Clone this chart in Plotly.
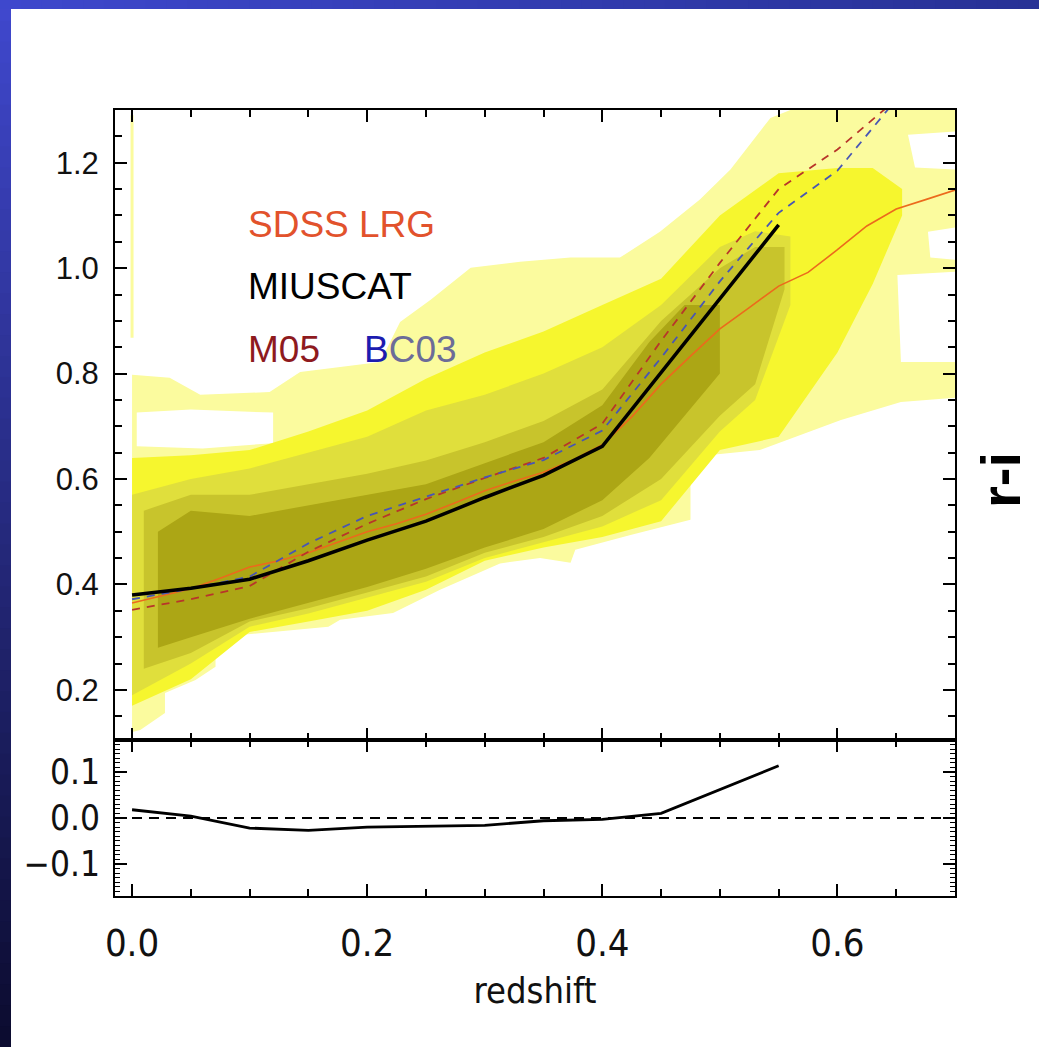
import plotly.graph_objects as go

# ---------------- data ----------------
# model / observed r-i colour tracks
miuscat_z = [0.0, 0.05, 0.1, 0.15, 0.2, 0.25, 0.3, 0.35, 0.4, 0.45, 0.5, 0.55]
miuscat_ri = [0.380, 0.393, 0.410, 0.445, 0.484, 0.520, 0.565, 0.607, 0.662, 0.802, 0.942, 1.082]

m05_z = [0.0, 0.05, 0.1, 0.15, 0.2, 0.25, 0.3, 0.35, 0.4, 0.45, 0.5, 0.55, 0.6, 0.65]
m05_ri = [0.352, 0.372, 0.397, 0.462, 0.515, 0.562, 0.602, 0.640, 0.705, 0.862, 1.010, 1.150, 1.225, 1.32]

bc03_z = [0.0, 0.05, 0.1, 0.15, 0.2, 0.25, 0.3, 0.35, 0.4, 0.45, 0.5, 0.55, 0.6, 0.65]
bc03_ri = [0.372, 0.392, 0.415, 0.478, 0.530, 0.566, 0.603, 0.636, 0.692, 0.830, 0.975, 1.105, 1.185, 1.32]

sdss_z = [0.0, 0.025, 0.05, 0.075, 0.1, 0.125, 0.15, 0.175, 0.2, 0.225, 0.25, 0.275, 0.3, 0.325,
          0.35, 0.375, 0.4, 0.425, 0.45, 0.475, 0.5, 0.525, 0.55, 0.575, 0.6, 0.625, 0.65, 0.675, 0.7]
sdss_ri = [0.365, 0.378, 0.392, 0.412, 0.433, 0.445, 0.460, 0.480, 0.500, 0.515, 0.533, 0.555, 0.578, 0.596,
           0.613, 0.636, 0.665, 0.718, 0.780, 0.833, 0.885, 0.925, 0.966, 0.992, 1.035, 1.080, 1.112, 1.130, 1.148]

resid_z = [0.0, 0.05, 0.1, 0.15, 0.2, 0.25, 0.3, 0.35, 0.4, 0.45, 0.5, 0.55]
resid_val = [0.018, 0.004, -0.022, -0.027, -0.020, -0.018, -0.016, -0.006, -0.003, 0.010, 0.062, 0.114]

# density contour levels (outer -> inner), boundaries
lvl1_x = [0.0, 0.032, 0.058, 0.117, 0.143, 0.211, 0.228, 0.254, 0.288, 0.330, 0.373, 0.415, 0.449, 0.483,
          0.509, 0.543, 0.560, 0.70, 0.70, 0.660, 0.666, 0.70, 0.70, 0.677, 0.679, 0.70, 0.70, 0.651,
          0.654, 0.70, 0.70, 0.654, 0.603, 0.534, 0.475, 0.475, 0.424, 0.377, 0.373, 0.347, 0.313,
          0.262, 0.222, 0.177, 0.167, 0.077, 0.060, 0.071, 0.071, 0.054, 0.028, 0.028, 0.007, 0.0]
lvl1_y = [0.798, 0.792, 0.760, 0.765, 0.803, 0.822, 0.898, 0.940, 1.001, 1.012, 1.020, 1.020, 1.069, 1.130,
          1.187, 1.285, 1.30, 1.30, 1.259, 1.253, 1.191, 1.187, 1.077, 1.069, 1.020, 1.016, 0.993, 0.987,
          0.822, 0.822, 0.754, 0.746, 0.712, 0.655, 0.642, 0.523, 0.494, 0.466, 0.441, 0.450, 0.440,
          0.390, 0.346, 0.333, 0.320, 0.301, 0.295, 0.270, 0.244, 0.219, 0.194, 0.156, 0.124, 0.120]
hole_x = [0.004, 0.05, 0.12, 0.12, 0.06, 0.004]
hole_y = [0.726, 0.732, 0.726, 0.668, 0.658, 0.662]
strip_x = [0.0, 0.0]
strip_y = [0.868, 1.29]

lvl2_x = [0.0, 0.05, 0.1, 0.15, 0.2, 0.25, 0.3, 0.35, 0.4, 0.45, 0.5, 0.55, 0.6, 0.63, 0.655]
lvl2_lo = [0.17, 0.22, 0.31, 0.33, 0.35, 0.39, 0.445, 0.47, 0.49, 0.52, 0.655, 0.68, 0.84, 0.97, 1.10]
lvl2_hi = [0.64, 0.645, 0.655, 0.69, 0.73, 0.79, 0.84, 0.88, 0.93, 0.98, 1.10, 1.18, 1.19, 1.19, 1.15]

lvl3_x = [0.0, 0.05, 0.1, 0.15, 0.2, 0.25, 0.3, 0.35, 0.4, 0.45, 0.5, 0.53, 0.56]
lvl3_lo = [0.19, 0.25, 0.32, 0.345, 0.375, 0.405, 0.45, 0.48, 0.51, 0.56, 0.69, 0.75, 0.93]
lvl3_hi = [0.57, 0.60, 0.62, 0.65, 0.68, 0.73, 0.76, 0.80, 0.85, 0.93, 1.04, 1.07, 1.06]

lvl4_x = [0.01, 0.05, 0.1, 0.15, 0.2, 0.25, 0.3, 0.35, 0.4, 0.45, 0.5, 0.53, 0.555]
lvl4_lo = [0.24, 0.27, 0.33, 0.355, 0.385, 0.415, 0.46, 0.49, 0.53, 0.60, 0.72, 0.78, 0.96]
lvl4_hi = [0.54, 0.57, 0.57, 0.59, 0.61, 0.635, 0.67, 0.71, 0.77, 0.90, 1.00, 1.04, 1.04]

lvl5_x = [0.022, 0.05, 0.1, 0.15, 0.2, 0.25, 0.3, 0.35, 0.4, 0.44, 0.47, 0.50]
lvl5_lo = [0.28, 0.30, 0.335, 0.365, 0.395, 0.43, 0.47, 0.505, 0.56, 0.64, 0.72, 0.80]
lvl5_hi = [0.50, 0.54, 0.53, 0.55, 0.57, 0.59, 0.63, 0.67, 0.74, 0.86, 0.93, 0.93]

x_ticks = [0.0, 0.2, 0.4, 0.6]
x_ticktext = ["0.0", "0.2", "0.4", "0.6"]
y_ticks = [0.2, 0.4, 0.6, 0.8, 1.0, 1.2]
y_ticktext = ["0.2", "0.4", "0.6", "0.8", "1.0", "1.2"]
r_ticks = [-0.1, 0.0, 0.1]
r_ticktext = ["\u22120.1", "0.0", "0.1"]

# ---------------- style ----------------
C1, C2, C3, C4, C5 = "#fbfb9e", "#f6f62e", "#e0df3c", "#c8c42c", "#aca615"
W, H = 1039, 1047
XR = [-0.0145, 0.700]

fig = go.Figure()


def band(xs, lo, hi, color):
    fig.add_trace(go.Scatter(x=list(xs) + list(xs)[::-1], y=list(hi) + list(lo)[::-1],
                             fill="toself", fillcolor=color, mode="lines",
                             line=dict(width=0, color=color), hoverinfo="skip",
                             xaxis="x", yaxis="y"))


fig.add_trace(go.Scatter(x=lvl1_x, y=lvl1_y, fill="toself", fillcolor=C1, mode="lines",
                         line=dict(width=0, color=C1), hoverinfo="skip"))
fig.add_trace(go.Scatter(x=hole_x, y=hole_y, fill="toself", fillcolor="white", mode="lines",
                         line=dict(width=0, color="white"), hoverinfo="skip"))
fig.add_trace(go.Scatter(x=strip_x, y=strip_y, mode="lines",
                         line=dict(width=3, color=C1), hoverinfo="skip"))
band(lvl2_x, lvl2_lo, lvl2_hi, C2)
band(lvl3_x, lvl3_lo, lvl3_hi, C3)
band(lvl4_x, lvl4_lo, lvl4_hi, C4)
band(lvl5_x, lvl5_lo, lvl5_hi, C5)

fig.add_trace(go.Scatter(x=sdss_z, y=sdss_ri, mode="lines",
                         line=dict(color="#ec6a1c", width=1.6), hoverinfo="skip"))
fig.add_trace(go.Scatter(x=m05_z, y=m05_ri, mode="lines",
                         line=dict(color="#b8352a", width=1.8, dash="8px,7px"), hoverinfo="skip"))
fig.add_trace(go.Scatter(x=bc03_z, y=bc03_ri, mode="lines",
                         line=dict(color="#4856b4", width=1.8, dash="8px,7px"), hoverinfo="skip"))
fig.add_trace(go.Scatter(x=miuscat_z, y=miuscat_ri, mode="lines",
                         line=dict(color="black", width=3.5), hoverinfo="skip"))

# residual panel
fig.add_trace(go.Scatter(x=resid_z, y=resid_val, mode="lines", xaxis="x2", yaxis="y2",
                         line=dict(color="black", width=2.8), hoverinfo="skip"))
fig.add_shape(type="line", xref="x2 domain", yref="y2", x0=0, x1=1, y0=0, y1=0,
              line=dict(color="black", width=1.8, dash="10px,7px"))

# slide background strips (gradient)
n = 50
for i in range(n):
    t = i / (n - 1)
    r = int(64 + (12 - 64) * t)
    g = int(72 + (12 - 72) * t)
    b = int(205 + (48 - 205) * t)
    fig.add_shape(type="rect", xref="paper", yref="paper", x0=0, x1=11 / W,
                  y0=max(0, 1 - (i + 1) / n - 0.004), y1=1 - i / n, line=dict(width=0),
                  fillcolor=f"rgb({r},{g},{b})", layer="above")
for i in range(n):
    t = i / (n - 1)
    r = int(62 + (40 - 62) * t)
    g = int(72 + (50 - 72) * t)
    b = int(205 + (150 - 205) * t)
    fig.add_shape(type="rect", xref="paper", yref="paper", x0=i / n, x1=min(1, (i + 1) / n + 0.004),
                  y0=1 - 9 / H, y1=1, line=dict(width=0),
                  fillcolor=f"rgb({r},{g},{b})", layer="above")

dom_x = [115 / W, 955 / W]
main_dom = [(H - 740) / H, (H - 110) / H]
res_dom = [(H - 896) / H, (H - 740) / H]

tick_font = dict(family="Liberation Sans, Arial, sans-serif", size=31, color="#111111")
narrow_family = "DejaVu Sans Condensed, Liberation Sans Narrow, Liberation Sans, sans-serif"
narrow_font = dict(family=narrow_family, size=38, color="#111111")

common_x = dict(range=XR, showline=True, linecolor="black", linewidth=2, mirror="allticks",
                ticks="inside", ticklen=12, tickwidth=2, tickcolor="black", automargin=False,
                tickvals=x_ticks, showgrid=False, zeroline=False,
                minor=dict(dtick=0.05, tick0=0, ticks="inside", ticklen=7, tickwidth=1.5,
                           tickcolor="black", showgrid=False))

fig.update_layout(
    width=W, height=H, margin=dict(l=0, r=0, t=0, b=0, pad=0, autoexpand=False),
    paper_bgcolor="white", plot_bgcolor="white", showlegend=False,
    xaxis=dict(domain=dom_x, anchor="y", showticklabels=False, **common_x),
    yaxis=dict(domain=main_dom, anchor="x", range=[0.105, 1.30], showline=True, linecolor="black",
               linewidth=2, mirror="allticks", ticks="inside", ticklen=12, tickwidth=2,
               tickcolor="black", tickvals=y_ticks, ticktext=y_ticktext, tickfont=tick_font,
               ticklabelstandoff=8, showgrid=False, zeroline=False, automargin=False,
               minor=dict(dtick=0.05, tick0=0, ticks="inside", ticklen=7, tickwidth=1.5,
                          tickcolor="black", showgrid=False)),
    xaxis2=dict(domain=dom_x, anchor="y2", showticklabels=True, ticktext=x_ticktext,
                tickfont=narrow_font, ticklabelstandoff=12,
                title=dict(text="redshift", font=dict(family=narrow_family, size=36,
                                                      color="#111111"), standoff=14),
                **common_x),
    yaxis2=dict(domain=res_dom, anchor="x2", range=[-0.17, 0.17], showline=True, linecolor="black",
                linewidth=2, mirror="allticks", ticks="inside", ticklen=12, tickwidth=2,
                tickcolor="black", tickvals=r_ticks, ticktext=r_ticktext,
                tickfont=dict(family=narrow_family, size=35, color="#111111"),
                ticklabelstandoff=6, showgrid=False, zeroline=False, automargin=False,
                minor=dict(dtick=0.01, tick0=0, ticks="inside", ticklen=5, tickwidth=1.2,
                           tickcolor="black", showgrid=False)),
)

leg_font = "Liberation Sans, Arial, sans-serif"
fig.add_annotation(x=0.097, y=1.082, xref="x", yref="y", text="SDSS LRG", showarrow=False,
                   xanchor="left", yanchor="middle",
                   font=dict(family=leg_font, size=37, color="#e2522c"))
fig.add_annotation(x=0.097, y=0.965, xref="x", yref="y", text="MIUSCAT", showarrow=False,
                   xanchor="left", yanchor="middle",
                   font=dict(family=leg_font, size=37, color="black"))
fig.add_annotation(x=0.097, y=0.845, xref="x", yref="y", text="M05", showarrow=False,
                   xanchor="left", yanchor="middle",
                   font=dict(family=leg_font, size=37, color="#8e1a1e"))
fig.add_annotation(x=0.196, y=0.845, xref="x", yref="y",
                   text="<span style='color:#1c1cb0'>B</span><span style='color:#6c6c98'>C03</span>",
                   showarrow=False, xanchor="left", yanchor="middle",
                   font=dict(family=leg_font, size=37, color="#1c1cb0"))
fig.add_annotation(x=1001 / W, y=(H - 480) / H, xref="paper", yref="paper", text="<b>r-i</b>",
                   showarrow=False, textangle=-90, xanchor="center", yanchor="middle",
                   font=dict(family="Liberation Sans, Arial, sans-serif", size=56, color="black"))

fig.write_html("out.html")
